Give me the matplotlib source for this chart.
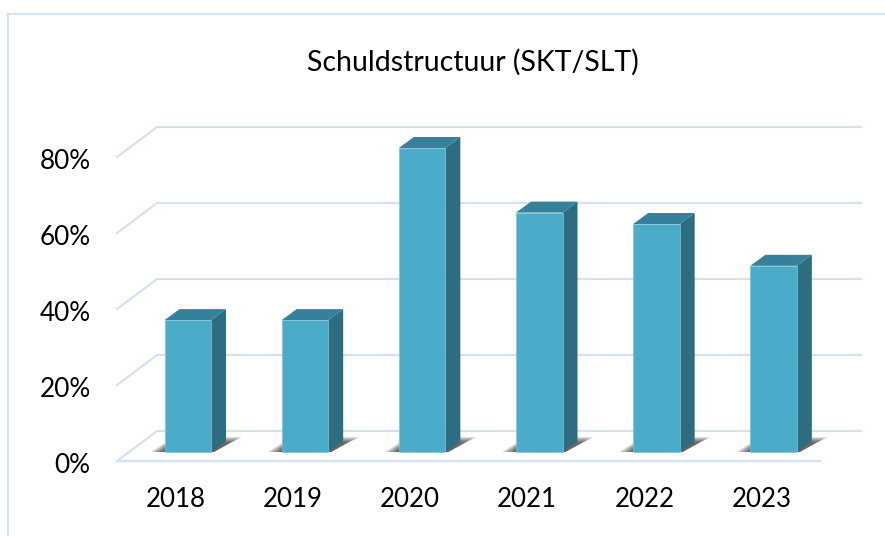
import matplotlib
matplotlib.use("Agg")
import matplotlib.pyplot as plt
from matplotlib.patches import Polygon
from matplotlib.lines import Line2D
from matplotlib.transforms import ScaledTranslation

categories = ["2018", "2019", "2020", "2021", "2022", "2023"]
values = [34.7, 34.7, 80, 63, 60, 49]
y_ticks = [0, 20, 40, 60, 80]
title = "Schuldstructuur (SKT/SLT)"

W, H = 885, 536
FONT = "Lato"
GRID = "#d3e2f3"
FRONT, TOP, SIDE = "#4aacc8", "#35809a", "#2e6d80"

fig = plt.figure(figsize=(W / 100, H / 100), dpi=100, facecolor="white")
L, R, B, T = 117, 820, 461, 157
ax = fig.add_axes([L / W, 1 - B / H, (R - L) / W, (B - T) / H])
ax.set_xlim(-0.5, 5.5)
ax.set_ylim(0, 80)
ax.patch.set_alpha(0)
for s in ax.spines.values():
    s.set_visible(False)

px = 6 / (R - L)      # data x per pixel
py = 80 / (B - T)     # data y per pixel

# outer frame
fig.add_artist(Line2D([8 / W, 8 / W, 1], [0, 1 - 14 / H, 1 - 14 / H], color=GRID, lw=1.5,
                      solid_joinstyle="miter"))

# walls and floor gridlines
for v in y_ticks:
    xs = [-0.5, -0.5 + 40 * px, -0.5 + 744 * px]
    ys = [v, v + 30 * py, v + 30 * py]
    ax.plot(xs, ys, color=GRID, lw=1.5, clip_on=False, zorder=1, solid_joinstyle="miter")
ax.plot([-0.5, 5.5], [0, 0], color=GRID, lw=1.6, clip_on=False, zorder=1)

bw, off, dx, dy, base = 46.5 * px, 0.104, 15 * px, 11 * py, 9 * py
for i, v in enumerate(values):
    x0 = i + off - bw / 2
    x1 = x0 + bw
    y1 = base + v
    # soft cast shadow on the floor (layered for a blur)
    for k in range(7):
        a = k * 2.0
        ax.add_patch(Polygon(
            [(x0 - (14 - a) * px, base), (x1 + 3 * px, base),
             (x1 + (31 - a) * px, base + (15 - a * 0.45) * py),
             (x1 + (14 - a * 0.3) * px, base + (15 - a * 0.45) * py),
             (x0, base + (9 - a * 0.55) * py)],
            closed=True, fc="#000000", ec="none", alpha=0.12, zorder=2, clip_on=False))
    ax.add_patch(Polygon([(x1, base), (x1 + dx, base + dy), (x1 + dx, y1 + dy), (x1, y1)],
                         closed=True, fc=SIDE, ec="none", zorder=3, clip_on=False))
    ax.add_patch(Polygon([(x0, y1), (x1, y1), (x1 + dx, y1 + dy), (x0 + dx, y1 + dy)],
                         closed=True, fc=TOP, ec="none", zorder=3, clip_on=False))
    ax.add_patch(Polygon([(x0, base), (x1, base), (x1, y1), (x0, y1)],
                         closed=True, fc=FRONT, ec="#7fc3d8", lw=0.5, zorder=4, clip_on=False))

ax.set_xticks(range(len(categories)), categories, fontname=FONT, fontsize=18.6, color="black")
ax.set_yticks(y_ticks, [f"{v}%" for v in y_ticks], fontname=FONT, fontsize=18.8, color="black")
ax.tick_params(axis="both", length=0)
ax.tick_params(axis="x", pad=18.5)
ax.tick_params(axis="y", pad=19)
shift = ScaledTranslation(0, -2 / 100, fig.dpi_scale_trans)
for lab in ax.get_yticklabels():
    lab.set_transform(lab.get_transform() + shift)

fig.text(473 / W, 1 - 62 / H, title, ha="center", va="center", fontname=FONT, fontsize=20.5, color="black")

fig.savefig("out.png", dpi=100)
